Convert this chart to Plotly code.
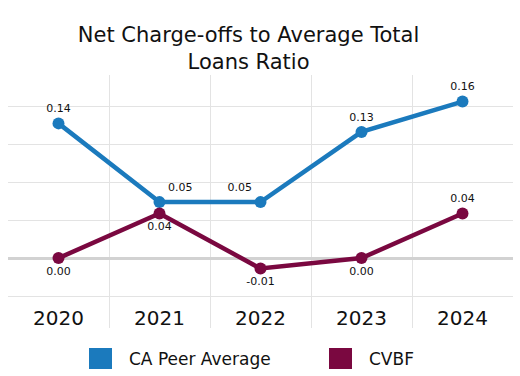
import plotly.graph_objects as go

years = ["2020", "2021", "2022", "2023", "2024"]
peer_values = [0.142, 0.059, 0.059, 0.133, 0.165]
peer_labels = ["0.14", "0.05", "0.05", "0.13", "0.16"]
cvbf_values = [0.0, 0.047, -0.011, 0.0, 0.047]
cvbf_labels = ["0.00", "0.04", "-0.01", "0.00", "0.04"]
series_names = ["CA Peer Average", "CVBF"]

BLUE = "#1b7abd"
MAROON = "#7a0840"
FONT = "DejaVu Sans"

fig = go.Figure()
fig.add_trace(go.Scatter(
    x=years, y=peer_values, text=peer_labels, name=series_names[0],
    mode="lines+markers+text", texttemplate="%{text}",
    textposition=["top center", "top right", "top left", "top center", "top center"],
    textfont=dict(family=FONT, size=11, color="#111"),
    line=dict(color=BLUE, width=4.5), marker=dict(size=12, color=BLUE),
    showlegend=False, cliponaxis=False,
))
fig.add_trace(go.Scatter(
    x=years, y=cvbf_values, text=cvbf_labels, name=series_names[1],
    mode="lines+markers+text", texttemplate="%{text}",
    textposition=["bottom center", "bottom center", "bottom center", "bottom center", "top center"],
    textfont=dict(family=FONT, size=11, color="#111"),
    line=dict(color=MAROON, width=4.5), marker=dict(size=12, color=MAROON),
    showlegend=False, cliponaxis=False,
))

# custom legend with large squares
legend_items = [(series_names[0], BLUE, 89), (series_names[1], MAROON, 329)]
for name, color, px in legend_items:
    fig.add_shape(type="rect", xref="paper", yref="paper",
                  x0=(px - 8) / 505, x1=(px + 15) / 505,
                  y0=-(348 - 328) / 253, y1=-(369 - 328) / 253,
                  fillcolor=color, line=dict(width=0))
    fig.add_annotation(xref="paper", yref="paper", x=(px + 30) / 505,
                       y=-(358.5 - 328) / 253, text=name, showarrow=False,
                       xanchor="left", yanchor="middle",
                       font=dict(family=FONT, size=17, color="#111"))

fig.update_layout(
    width=520, height=376,
    margin=dict(l=8, r=7, t=75, b=48),
    paper_bgcolor="white", plot_bgcolor="white",
    title=dict(text="Net Charge-offs to Average Total<br>Loans Ratio",
               x=0.478, xanchor="center", y=0.888, yanchor="middle",
               font=dict(family=FONT, size=21, color="#111")),
    font=dict(family=FONT),
    xaxis=dict(type="category", range=[-0.5, 4.5], tickson="boundaries",
               showgrid=True, gridcolor="#e3e3e3", gridwidth=1,
               ticks="", showline=False, zeroline=False,
               ticklabelposition="inside", ticklabelstandoff=-4,
               tickfont=dict(family=FONT, size=20, color="#111")),
    yaxis=dict(range=[-0.0737, 0.193], dtick=0.04, tick0=0,
               showgrid=True, gridcolor="#e3e3e3", gridwidth=1,
               zeroline=True, zerolinecolor="#d2d2d2", zerolinewidth=3,
               showticklabels=False, ticks="", showline=False),
)

fig.write_html("out.html", config={"displayModeBar": False},
               post_script="document.body.style.margin='0';")
